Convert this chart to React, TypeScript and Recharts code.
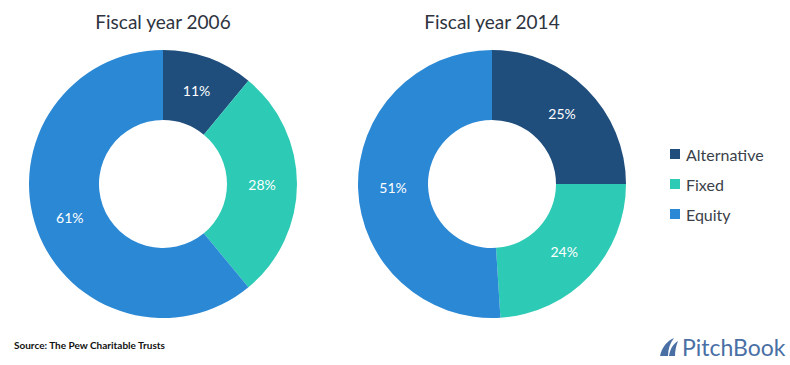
import { PieChart, Pie, Cell } from "recharts";

const categories = ["Alternative", "Fixed", "Equity"];
const colors = ["#1F4E7D", "#2DCAB5", "#2A88D5"];
const values2006 = [11, 28, 61];
const values2014 = [25, 24, 51];
const titles = ["Fiscal year 2006", "Fiscal year 2014"];

const FONT = "Lato, 'Open Sans', sans-serif";
const RADIAN = Math.PI / 180;

const data2006 = categories.map((name, i) => ({ name, value: values2006[i] }));
const data2014 = categories.map((name, i) => ({ name, value: values2014[i] }));

function renderLabel(props: any) {
  const { cx, cy, midAngle, innerRadius, outerRadius, value } = props;
  const r = (innerRadius + outerRadius) / 2;
  const x = cx + r * Math.cos(-midAngle * RADIAN);
  const y = cy + r * Math.sin(-midAngle * RADIAN);
  return (
    <text
      x={x}
      y={y}
      fill="#ffffff"
      textAnchor="middle"
      dominantBaseline="central"
      fontSize={14}
      fontFamily={FONT}
    >
      {`${value}%`}
    </text>
  );
}

export default function App() {
  const pies = [
    { data: data2006, cx: 163, title: titles[0] },
    { data: data2014, cx: 492, title: titles[1] },
  ];
  return (
    <div style={{ position: "absolute", left: 0, top: 0, width: 790, height: 365, background: "#fff" }}>
      <PieChart width={790} height={365} margin={{ top: 0, right: 0, bottom: 0, left: 0 }}>
        {pies.map((p, k) => (
          <Pie
            key={k}
            data={p.data}
            dataKey="value"
            nameKey="name"
            cx={p.cx}
            cy={184}
            innerRadius={64}
            outerRadius={134}
            startAngle={90}
            endAngle={-270}
            stroke="none"
            label={renderLabel}
            labelLine={false}
            isAnimationActive={false}
          >
            {p.data.map((d, i) => (
              <Cell key={d.name} fill={colors[i]} />
            ))}
          </Pie>
        ))}
      </PieChart>
      <div style={{ position: "absolute", left: 670, top: 139, fontFamily: FONT }}>
        {categories.map((c, i) => (
          <div key={c} style={{ display: "flex", alignItems: "center", height: 30 }}>
            <span
              style={{ width: 10, height: 10, background: colors[i], marginRight: 6, display: "inline-block" }}
            />
            <span style={{ fontSize: 16, color: "#3b3f4a" }}>{c}</span>
          </div>
        ))}
      </div>
      {pies.map((p, k) => (
        <div
          key={k}
          style={{
            position: "absolute",
            left: p.cx - 120,
            width: 240,
            top: 10,
            textAlign: "center",
            fontFamily: FONT,
            fontSize: 19,
            color: "#2e3440",
          }}
        >
          {p.title}
        </div>
      ))}
      <div
        style={{
          position: "absolute",
          left: 14,
          top: 339,
          fontFamily: FONT,
          fontWeight: 700,
          fontSize: 10,
          color: "#111",
        }}
      >
        Source: The Pew Charitable Trusts
      </div>
      <div
        style={{
          position: "absolute",
          left: 658,
          top: 333,
          display: "flex",
          alignItems: "center",
          fontFamily: FONT,
          fontSize: 23,
          color: "#4A6FA5",
        }}
      >
        <svg width={22} height={20} viewBox="0 0 22 20" style={{ marginRight: 2 }}>
          <path d="M2 19 C4 10 9 4 16 1 C12 6 10 12 10 19 Z" fill="#4A6FA5" />
          <path d="M11 19 C12 12 15 7 20 4 C18 9 17 14 17 19 Z" fill="#4A6FA5" />
        </svg>
        PitchBook
      </div>
    </div>
  );
}
